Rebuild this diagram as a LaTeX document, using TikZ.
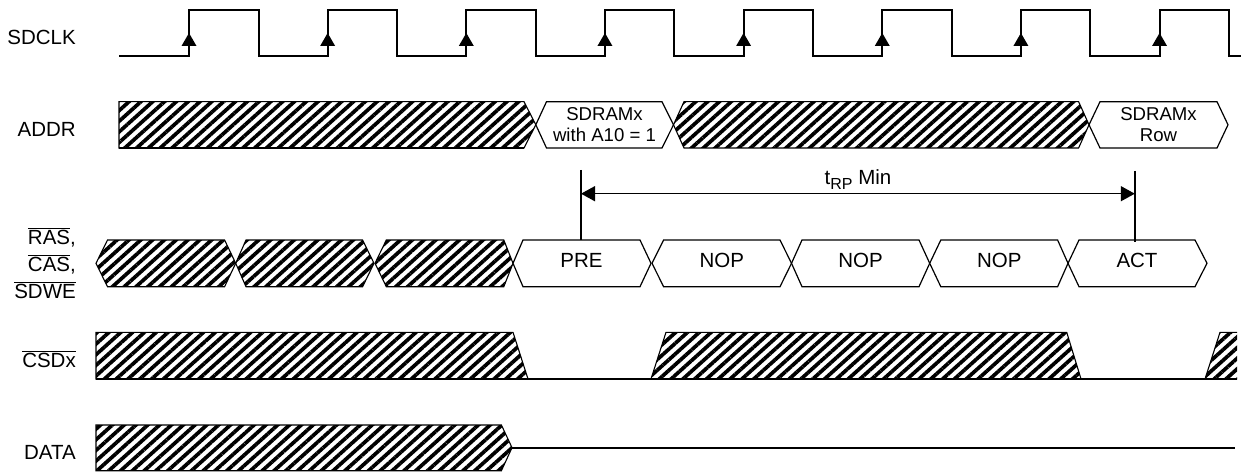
\documentclass[tikz,border=0pt]{standalone}
\usepackage{fontspec}
\setmainfont{Liberation Sans}
\usepackage{tikz}
\usetikzlibrary{arrows.meta,patterns.meta}

\tikzset{
    hatched/.style={draw=black,line width=1.1pt,pattern={Lines[angle=42,distance=7.9pt,line width=3.7pt]}},
    busbox/.style={draw=black,line width=1.2pt,fill=white,line join=miter},
    wave/.style={black,line width=2pt,line join=miter},
    siglabel/.style={font=\fontsize{20.5}{24}\selectfont,anchor=east,inner sep=0pt},
    buslabel/.style={font=\fontsize{20.5}{24}\selectfont,inner sep=0pt},
    smalllabel/.style={font=\fontsize{18.6}{21}\selectfont,inner sep=0pt,align=center},
    edgetip/.style={-{Triangle[length=14pt,width=15pt]},line width=1.5pt}
}

\begin{document}
\begin{tikzpicture}[x=1pt,y=-1pt]
    \useasboundingbox (0,0) rectangle (1241,473);

    % signal names
    \node[siglabel] (sdclk) at (76,37) {SDCLK};
    \node[siglabel] (addr) at (76,129) {ADDR};
    \node[siglabel,align=right,font=\fontsize{20.5}{27}\selectfont] (ras) at (76,263)
        {$\overline{\hbox{RAS}}$,\\$\overline{\hbox{CAS}}$,\\$\overline{\hbox{SDWE}}$};
    \node[siglabel] (csdx) at (76,359) {$\overline{\hbox{CSDx}}$};
    \node[siglabel] (data) at (76,452) {DATA};

    % clock
    \draw[wave] (119,55.7) -- (189,55.7)
        \foreach \k in {0,...,7} {
            -- ({189+138.65*\k},10) -- ({258.5+138.65*\k},10)
            -- ({258.5+138.65*\k},55.7) -- ({327.65+138.65*\k},55.7)
        };
    \foreach \k in {0,...,7} {
        \fill ({189+138.65*\k},33) -- ({196.5+138.65*\k},46) -- ({181.5+138.65*\k},46) -- cycle;
    }

    % ADDR
    \path[hatched] (119,101.7) -- (524,101.7) -- (535.8,124.8) -- (524,148) -- (119,148) -- cycle;
    \draw[busbox] (535.8,124.8) -- (546.5,101.7) -- (662,101.7) -- (673.5,124.8) -- (662,148) -- (546.5,148) -- cycle;
    \path[hatched] (673.5,124.8) -- (684,101.7) -- (1078.6,101.7) -- (1089,124.8) -- (1078.6,148) -- (684,148) -- cycle;
    \draw[busbox] (1089,124.8) -- (1100,101.7) -- (1217,101.7) -- (1228,124.8) -- (1217,148) -- (1100,148) -- cycle;
    \draw[wave] (119,148) -- (524,148);
    \node[smalllabel] (addrpre) at (604.5,125) {SDRAMx\\with A10 = 1};
    \node[smalllabel] (addrrow) at (1158.5,125) {SDRAMx\\Row};

    % RAS, CAS, SDWE
    \foreach \a/\b/\c/\d in {96/107.5/224.6/235.7,235.7/246/362.6/374,375/386.3/503.8/513} {
        \path[hatched] (\a,263.3) -- (\b,240) -- (\c,240) -- (\d,263.3) -- (\c,286.7) -- (\b,286.7) -- cycle;
    }
    \foreach \a/\b/\c/\d/\n/\t in {513/523/640/651/pre/PRE,652/663.6/780/791.5/nopa/NOP,791.5/802/919/929.7/nopb/NOP,929.7/940.8/1057.6/1068/nopc/NOP,1068/1079/1195/1207/act/ACT} {
        \draw[busbox] (\a,263.3) -- (\b,240) -- (\c,240) -- (\d,263.3) -- (\c,286.7) -- (\b,286.7) -- cycle;
        \node[buslabel] (\n) at ({(\b+\c)/2},260.5) {\t};
    }

    % tRP
    \coordinate (rpa) at (581,170);
    \coordinate (rpb) at (1134.8,171);
    \coordinate (rpc) at (581,240);
    \coordinate (rpd) at (1134.8,242);
    \coordinate (rpe) at (581,193.7);
    \coordinate (rpf) at (1134.8,193.7);
    \draw[line width=1.5pt] (rpa) -- (rpc);
    \draw[line width=1.5pt] (rpb) -- (rpd);
    \draw[edgetip] (858,193.7) -- (rpe);
    \draw[edgetip] (858,193.7) -- (rpf);
    \node[buslabel,anchor=base] (trp) at (858,185) {t\raisebox{-5pt}{\fontsize{16}{16}\selectfont RP} Min};

    % CSDx
    \path[hatched] (96,332.3) -- (513,332.3) -- (528,379) -- (96,379) -- cycle;
    \path[hatched] (651,379) -- (666,332.3) -- (1066.7,332.3) -- (1081,379) -- cycle;
    \begin{scope}
        \clip (1190,325) rectangle (1237,385);
        \path[hatched] (1205,379) -- (1220,332.3) -- (1250,332.3) -- (1250,379) -- cycle;
    \end{scope}
    \draw[wave] (96,379) -- (1237,379);

    % DATA
    \path[hatched] (96,425) -- (501.4,425) -- (512,447.7) -- (501.4,470.7) -- (96,470.7) -- cycle;
    \draw[wave] (512,447.7) -- (1235,447.7);
\end{tikzpicture}
\end{document}
